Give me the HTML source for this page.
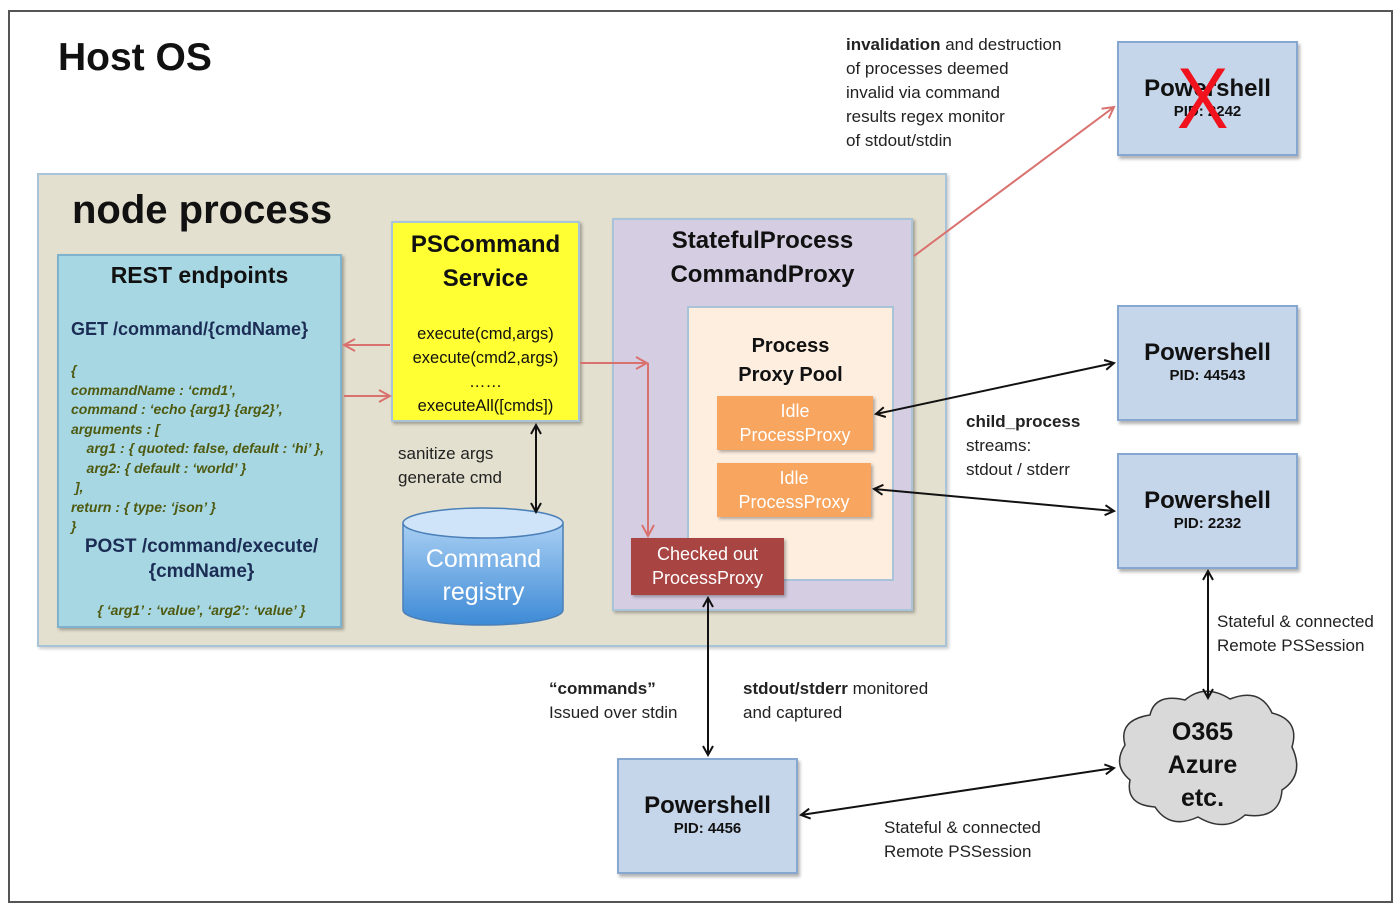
<!DOCTYPE html>
<html><head><meta charset="utf-8"><style>
body{margin:0;width:1400px;height:912px;background:#fff;position:relative;font-family:"Liberation Sans",sans-serif;overflow:hidden}
.a{position:absolute;box-sizing:border-box}
.c{text-align:center}
.ps{background:#c6d6ea;border:2px solid #86a7cf;box-shadow:2px 3px 3px rgba(0,0,0,.3);text-align:center;color:#111}
.ps b{display:block;font-size:24px;margin-top:32px}
.ps i{font-style:normal;font-weight:bold;font-size:15px;display:block}
.t{font-size:17px;color:#222;line-height:24px}
.g{color:#4e5a10;font-style:italic;font-weight:bold;font-size:14px;line-height:19.5px}
</style></head><body>
<div class="a" style="left:8px;top:10px;width:1385px;height:893px;border:2px solid #555"></div>
<div class="a" style="left:58px;top:36px;font-size:39px;font-weight:bold;color:#111">Host OS</div>
<div class="a" style="left:37px;top:173px;width:910px;height:474px;background:#e4e0cf;border:2px solid #a9c3d9;box-shadow:2px 2px 3px rgba(0,0,0,.2)"></div>
<div class="a" style="left:72px;top:188px;font-size:40px;font-weight:bold;color:#111">node process</div>
<div class="a" style="left:57px;top:254px;width:285px;height:374px;background:#a8d7e4;border:2px solid #7fb2cc;box-shadow:2px 2px 3px rgba(0,0,0,.3)">
<div class="c" style="font-size:23px;font-weight:bold;margin-top:6px;color:#111">REST endpoints</div>
<div style="position:absolute;left:12px;top:63px;font-size:18px;font-weight:bold;color:#1b2d55">GET /command/{cmdName}</div>
<div class="g" style="position:absolute;left:12px;top:105px">{<br>commandName : ‘cmd1’,<br>command : ‘echo {arg1} {arg2}’,<br>arguments : [<br>&nbsp;&nbsp;&nbsp;&nbsp;arg1 : { quoted: false, default : ‘hi’ },<br>&nbsp;&nbsp;&nbsp;&nbsp;arg2: { default : ‘world’ }<br>&nbsp;],<br>return : { type: ‘json’ }<br>}</div>
<div class="c" style="position:absolute;left:0;width:285px;top:278px;font-size:19px;font-weight:bold;color:#1b2d55;line-height:25px">POST /command/execute/<br>{cmdName}</div>
<div class="c g" style="position:absolute;left:0;width:285px;top:345px">{ ‘arg1’ : ‘value’, ‘arg2’: ‘value’ }</div>
</div>
<div class="a c" style="left:391px;top:221px;width:189px;height:201px;background:#ffff33;border:2px solid #a9c3d9;box-shadow:2px 2px 3px rgba(0,0,0,.3)">
<div style="font-size:24px;font-weight:bold;line-height:34px;margin-top:5px;color:#111">PSCommand<br>Service</div>
<div style="font-size:16.5px;line-height:24px;margin-top:26px;color:#111">execute(cmd,args)<br>execute(cmd2,args)<br>……<br>executeAll([cmds])</div></div>
<div class="a t" style="left:398px;top:442px">sanitize args<br>generate cmd</div>
<svg class="a" style="left:400px;top:505px" width="170" height="125"><defs><linearGradient id="cg" x1="0" y1="0" x2="0" y2="1"><stop offset="0" stop-color="#a9cff3"/><stop offset="1" stop-color="#3d8ad6"/></linearGradient></defs>
<path d="M3 18 L3 105 A80 15 0 0 0 163 105 L163 18" fill="url(#cg)" stroke="#4a7fb8" stroke-width="1.5"/>
<ellipse cx="83" cy="18" rx="80" ry="15" fill="#cfe4f8" stroke="#4a7fb8" stroke-width="1.5"/></svg>
<div class="a c" style="left:403px;top:543px;width:161px;font-size:25px;color:#fff;line-height:33px">Command<br>registry</div>
<div class="a" style="left:612px;top:218px;width:301px;height:393px;background:#d5cee3;border:2px solid #a9c3d9;box-shadow:2px 2px 3px rgba(0,0,0,.3)">
<div class="c" style="font-size:24px;font-weight:bold;line-height:34px;margin-top:4px;color:#111">StatefulProcess<br>CommandProxy</div></div>
<div class="a" style="left:687px;top:306px;width:207px;height:275px;background:#fdeee0;border:2px solid #a9c3d9">
<div class="c" style="font-size:20px;font-weight:bold;line-height:29px;margin-top:24px;color:#111">Process<br>Proxy Pool</div></div>
<div class="a c" style="left:717px;top:396px;width:156px;height:54px;background:#f7a55f;color:#fff;font-size:18px;line-height:24px;padding-top:3px;box-shadow:2px 2px 3px rgba(0,0,0,.3)">Idle<br>ProcessProxy</div>
<div class="a c" style="left:717px;top:463px;width:154px;height:54px;background:#f7a55f;color:#fff;font-size:18px;line-height:24px;padding-top:3px;box-shadow:2px 2px 3px rgba(0,0,0,.3)">Idle<br>ProcessProxy</div>
<div class="a c" style="left:631px;top:538px;width:153px;height:57px;background:#a84442;color:#fff;font-size:18px;line-height:24px;padding-top:4px;box-shadow:2px 2px 3px rgba(0,0,0,.3)">Checked out<br>ProcessProxy</div>
<div class="a ps" style="left:1117px;top:41px;width:181px;height:115px"><b>Powershell</b><i>PID: 2242</i></div>
<div class="a" style="left:1174px;top:54px;font-size:86px;color:#f0121c;line-height:90px;transform:scaleX(0.9)">X</div>
<div class="a ps" style="left:1117px;top:305px;width:181px;height:116px"><b>Powershell</b><i>PID: 44543</i></div>
<div class="a ps" style="left:1117px;top:453px;width:181px;height:116px"><b>Powershell</b><i>PID: 2232</i></div>
<div class="a ps" style="left:617px;top:758px;width:181px;height:116px"><b>Powershell</b><i>PID: 4456</i></div>
<svg class="a" style="left:1110px;top:685px" width="200" height="150"><path d="M40 30 Q45 8 75 15 Q95 -2 120 14 Q150 2 162 28 Q190 35 182 62 Q195 90 172 105 Q170 135 135 130 Q115 148 88 132 Q60 145 45 122 Q15 120 20 95 Q2 80 15 60 Q8 35 40 30Z" fill="#d9d9d9" stroke="#333" stroke-width="1.5"/></svg>
<div class="a c" style="left:1140px;top:716px;width:125px;font-size:25px;font-weight:bold;line-height:33px;color:#111">O365<br>Azure<br>etc.</div>
<div class="a t" style="left:846px;top:33px"><b>invalidation</b> and destruction<br>of processes deemed<br>invalid via command<br>results regex monitor<br>of stdout/stdin</div>
<div class="a t" style="left:966px;top:410px"><b>child_process</b><br>streams:<br>stdout / stderr</div>
<div class="a t" style="left:1217px;top:610px">Stateful &amp; connected<br>Remote PSSession</div>
<div class="a t" style="left:549px;top:677px"><b>“commands”</b><br>Issued over stdin</div>
<div class="a t" style="left:743px;top:677px"><b>stdout/stderr</b> monitored<br>and captured</div>
<div class="a t" style="left:884px;top:816px">Stateful &amp; connected<br>Remote PSSession</div>
<svg class="a" style="left:0;top:0" width="1400" height="912">
<defs>
<marker id="k" markerWidth="12" markerHeight="12" refX="10" refY="6" orient="auto-start-reverse" markerUnits="userSpaceOnUse"><path d="M1 1 L10 6 L1 11" fill="none" stroke="#111" stroke-width="2"/></marker>
<marker id="r" markerWidth="14" markerHeight="14" refX="12" refY="7" orient="auto-start-reverse" markerUnits="userSpaceOnUse"><path d="M1 1 L12 7 L1 13" fill="none" stroke="#d9716f" stroke-width="2"/></marker>
</defs>
<g stroke="#d9716f" stroke-width="2" fill="none">
<line x1="390" y1="345" x2="344" y2="345" marker-end="url(#r)"/>
<line x1="344" y1="396" x2="390" y2="396" marker-end="url(#r)"/>
<line x1="580" y1="363" x2="647" y2="363" marker-end="url(#r)"/>
<polyline points="648,363 648,536" marker-end="url(#r)"/>
<line x1="914" y1="256" x2="1114" y2="107" marker-end="url(#r)"/>
</g>
<g stroke="#111" stroke-width="2" fill="none">
<line x1="536" y1="425" x2="536" y2="512" marker-start="url(#k)" marker-end="url(#k)"/>
<line x1="876" y1="414" x2="1114" y2="363" marker-start="url(#k)" marker-end="url(#k)"/>
<line x1="874" y1="489" x2="1114" y2="511" marker-start="url(#k)" marker-end="url(#k)"/>
<line x1="708" y1="598" x2="708" y2="755" marker-start="url(#k)" marker-end="url(#k)"/>
<line x1="1208" y1="571" x2="1208" y2="698" marker-start="url(#k)" marker-end="url(#k)"/>
<line x1="801" y1="815" x2="1114" y2="768" marker-start="url(#k)" marker-end="url(#k)"/>
</g>
</svg>
</body></html>
